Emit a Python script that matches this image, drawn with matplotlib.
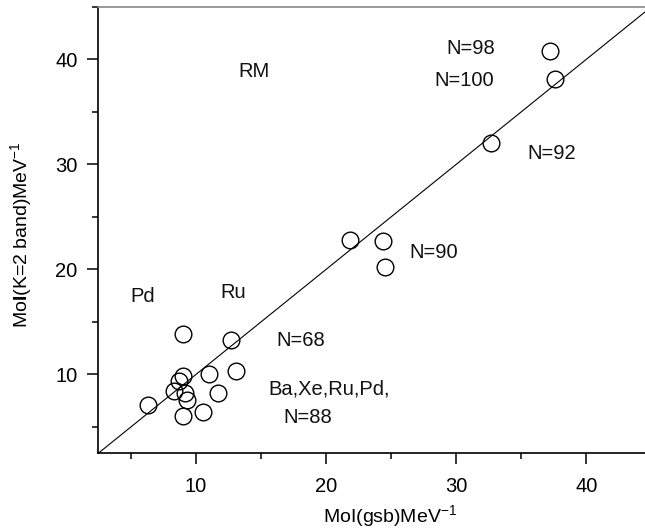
import matplotlib
matplotlib.use("Agg")
import matplotlib.pyplot as plt
from matplotlib.ticker import MultipleLocator

plt.rcParams['font.family'] = ['Liberation Sans', 'DejaVu Sans']
plt.rcParams['mathtext.fontset'] = 'custom'
plt.rcParams['mathtext.rm'] = 'Liberation Sans'
plt.rcParams['mathtext.it'] = 'Liberation Sans:italic'
plt.rcParams['mathtext.bf'] = 'Liberation Sans:bold'

# Moments of inertia (MeV^-1)
moi_gsb = [6.28, 8.31, 8.67, 9.02, 9.15, 9.28, 8.97, 8.98, 10.56, 11.02,
           11.67, 12.67, 13.05, 21.85, 24.36, 24.54, 32.69, 37.18, 37.56]
moi_k2 = [7.11, 8.41, 9.36, 9.90, 8.22, 7.59, 6.09, 13.81, 6.40, 10.07,
          8.20, 13.31, 10.29, 22.77, 22.71, 20.23, 31.99, 40.79, 38.09]

label_texts = ["RM", "N=98", "N=100", "N=92", "N=90", "Pd", "Ru", "N=68",
               "Ba,Xe,Ru,Pd,", "N=88"]
label_x = [14.45, 31.15, 30.58, 37.32, 28.3, 5.94, 12.83, 18.02, 20.24, 18.59]
label_y = [38.8, 41.03, 38.0, 31.0, 21.65, 17.4, 17.77, 13.2, 8.62, 5.86]

x_ticks = [10, 20, 30, 40]
y_ticks = [10, 20, 30, 40]

fig = plt.figure(figsize=(6.45, 5.32), dpi=100)
ax = fig.add_axes([0.1524, 0.148, 0.8476, 0.8394])

ax.axline((0, 0), slope=1, color='black', lw=0.8, zorder=1)
ax.plot(moi_gsb, moi_k2, linestyle='none', marker='o', markersize=12,
        markerfacecolor='none', markeredgecolor='black', markeredgewidth=1.0,
        zorder=2)

for t, x, y in zip(label_texts, label_x, label_y):
    ax.text(x, y, t, ha='center', va='center', fontsize=14.5, color='#111111')

ax.set_xlim(2.5, 44.5)
ax.set_ylim(2.5, 45)
ax.set_xticks(x_ticks)
ax.set_yticks(y_ticks)
ax.xaxis.set_minor_locator(MultipleLocator(5))
ax.yaxis.set_minor_locator(MultipleLocator(5))
ax.tick_params(which='major', direction='out', length=8, width=1.1,
               labelsize=14.5, pad=9)
ax.tick_params(which='minor', direction='out', length=4, width=1.1)
ax.tick_params(axis='y', which='major', pad=7)

ax.spines['right'].set_visible(False)
ax.spines['top'].set_color('#888888')
ax.spines['top'].set_linewidth(1.2)
ax.spines['left'].set_linewidth(1.2)
ax.spines['bottom'].set_linewidth(1.2)

ax.set_xlabel(r'MoI(gsb)MeV$^{-1}$', fontsize=14)
ax.xaxis.set_label_coords(0.534, -0.112)
ax.set_ylabel(r'Mo$\mathbf{I}$(K=2 band)MeV$^{-1}$', fontsize=14)
ax.yaxis.set_label_coords(-0.118, 0.49)

fig.savefig('out.png', dpi=100)
